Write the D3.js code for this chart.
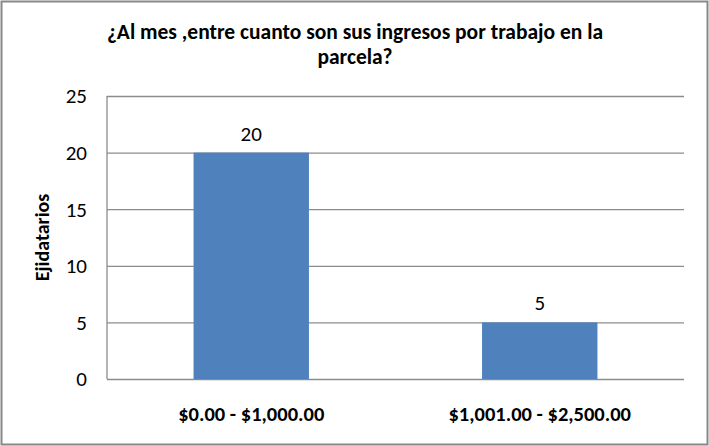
<!DOCTYPE html>
<html>
<head>
<meta charset="utf-8">
<script src="https://cdn.jsdelivr.net/npm/d3@7"></script>
<style>
  body { margin: 0; background: #fff; }
  svg { display: block; }
</style>
</head>
<body>
<div id="chart"></div>
<script>
// data
const categories = ['$0.00 - $1,000.00', '$1,001.00 - $2,500.00'];
const values = [20, 5];
const yTicks = [0, 5, 10, 15, 20, 25];
const titleLines = ['¿Al mes ,entre cuanto son sus ingresos por trabajo en la', 'parcela?'];
const yTitle = 'Ejidatarios';

const W = 709, H = 446;
const margin = { top: 96, right: 25, bottom: 67, left: 107 };
const w = W - margin.left - margin.right;
const h = H - margin.top - margin.bottom;
const font = 'Calibri, Carlito, "Open Sans", sans-serif';

const svg = d3.select('#chart').append('svg')
  .attr('width', W).attr('height', H);

// outer chart border
svg.append('rect')
  .attr('x', 1.5).attr('y', 1.5)
  .attr('width', W - 3).attr('height', H - 3)
  .attr('fill', '#fff').attr('stroke', '#888').attr('stroke-width', 2);

const g = svg.append('g')
  .attr('transform', `translate(${margin.left},${margin.top})`);

const xScale = d3.scaleBand().domain(categories).range([0, w]).padding(0);
const yScale = d3.scaleLinear().domain([0, 25]).range([h, 0]);

// grid lines
g.append('g')
  .call(d3.axisLeft(yScale).tickValues(yTicks).tickSize(-w).tickFormat(''))
  .call(g => g.select('.domain').remove())
  .call(g => g.selectAll('line').style('stroke', '#8c8c8c').style('stroke-width', 1.3));

// left axis line
g.append('line')
  .attr('x1', 0).attr('x2', 0).attr('y1', 0).attr('y2', h)
  .style('stroke', '#8c8c8c').style('stroke-width', 1.3);

// bars
const barW = xScale.bandwidth() * 0.4;
g.selectAll('.bar')
  .data(values)
  .join('rect')
  .attr('class', 'bar')
  .attr('x', (d, i) => xScale(categories[i]) + xScale.bandwidth() / 2 - barW / 2)
  .attr('y', d => yScale(d))
  .attr('width', barW)
  .attr('height', d => h - yScale(d))
  .attr('fill', '#4f81bd');

// data labels
g.selectAll('.lbl')
  .data(values)
  .join('text')
  .attr('x', (d, i) => xScale(categories[i]) + xScale.bandwidth() / 2)
  .attr('y', d => yScale(d) - 12)
  .attr('text-anchor', 'middle')
  .style('font-family', font).style('font-size', '21px').style('fill', '#000')
  .text(d => d);

// y tick labels
g.selectAll('.ytick')
  .data(yTicks)
  .join('text')
  .attr('x', -20)
  .attr('y', d => yScale(d))
  .attr('dy', '0.35em')
  .attr('text-anchor', 'end')
  .style('font-family', font).style('font-size', '21px').style('fill', '#000')
  .text(d => d);

// x category labels
g.selectAll('.xlbl')
  .data(categories)
  .join('text')
  .attr('x', d => xScale(d) + xScale.bandwidth() / 2)
  .attr('y', h + 42)
  .attr('text-anchor', 'middle')
  .style('font-family', font).style('font-size', '20.5px').style('font-weight', 'bold').style('fill', '#000')
  .text(d => d);

// y axis title
svg.append('text')
  .attr('transform', `translate(49,${margin.top + h / 2}) rotate(-90)`)
  .attr('text-anchor', 'middle')
  .style('font-family', font).style('font-size', '20px').style('font-weight', 'bold').style('fill', '#000')
  .text(yTitle);

// title
svg.selectAll('.title')
  .data(titleLines)
  .join('text')
  .attr('x', 355)
  .attr('y', (d, i) => 39 + i * 25)
  .attr('text-anchor', 'middle')
  .style('font-family', font).style('font-size', '21.5px').style('font-weight', 'bold').style('fill', '#000')
  .text(d => d);
</script>
</body>
</html>
